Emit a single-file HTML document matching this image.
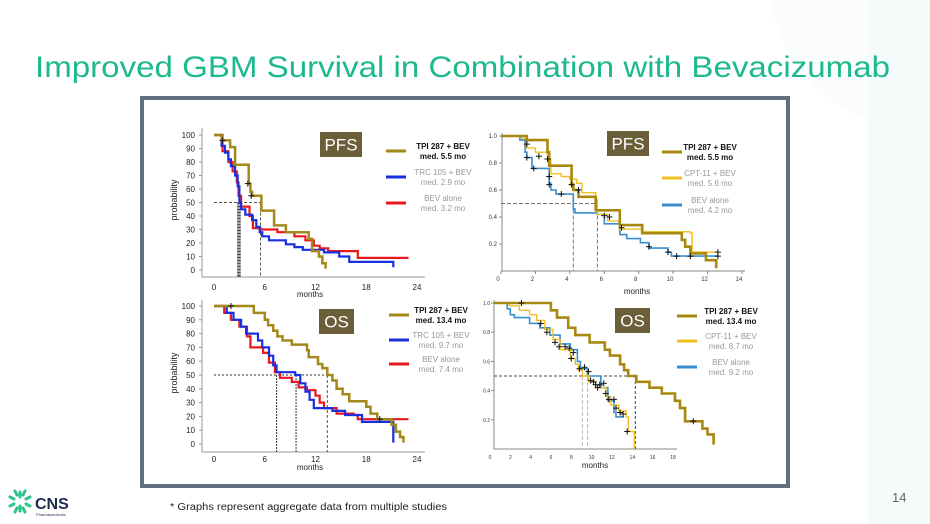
<!DOCTYPE html>
<html><head><meta charset="utf-8"><style>
html,body{margin:0;padding:0;background:#fff;}
svg{display:block;font-family:"Liberation Sans",sans-serif;}
</style></head><body>
<svg id="s" width="930" height="524" viewBox="0 0 930 524" xmlns="http://www.w3.org/2000/svg">
<rect width="930" height="524" fill="#fff"/>
<path d="M868 0 H930 V524 H868 Z" fill="#f4fbfa"/>
<path d="M770 0 Q790 90 868 120 V0 Z" fill="#fafdfc"/>
<text x="35" y="77" font-size="30" fill="#1db98e" textLength="855" lengthAdjust="spacingAndGlyphs">Improved GBM Survival in Combination with Bevacizumab</text>
<rect x="142" y="98" width="646" height="388" fill="#fff" stroke="#5f6e80" stroke-width="4"/>
<g id="charts"></g>
<g>
<g stroke="#2bc48a" stroke-width="3" stroke-linecap="round" fill="none">
<path d="M20 492 V497 M20 511 V506 M10 497 L14 499 M30 497 L26 499 M10 506 L14 504 M30 506 L26 504"/>
<path d="M15 491 L17 495 M25 491 L23 495 M15 512 L17 508 M25 512 L23 508"/>
</g>
<text x="35" y="509" font-size="16" font-weight="bold" fill="#1d2b4f">CNS</text>
<text x="36" y="516" font-size="4" fill="#1d2b4f">Pharmaceuticals</text>
</g>
<text x="170" y="510" font-size="10" fill="#222" textLength="277" lengthAdjust="spacingAndGlyphs">* Graphs represent aggregate data from multiple studies</text>
<text x="892" y="502" font-size="13" fill="#666">14</text>
</svg>
<script>
// ---- Panel 1: PFS (TPI / TRC / BEV), probability % ----
const p1TpiT=[0,0.9,1.9,2.5,4.1,4.3,4.5,5.6,7.1,8.5,11.2,11.6,12.4,12.8,13.2];
const p1TpiS=[100,96,91,78,64,58,55,44,33,28,23,14,10,5,1];
const p1TrcT=[0,0.9,1.3,1.7,2.0,2.5,2.8,3.0,3.2,3.7,4.5,5.0,5.4,5.7,6.5,8.5,9.5,10.5,13,14.8,16,21.2];
const p1TrcS=[100,92,87,82,77,70,62,50,45,41,37,32,28,25,22,19,17,15,13,10,6,2];
const p1BevT=[0,1.0,1.7,2.2,2.7,2.9,3.2,4.2,4.6,5.5,7.5,9.5,10.8,11.8,12.5,13.5,17,23];
const p1BevS=[100,88,80,73,65,55,47,40,31,30,28,25,22,18,16,14,9,9];
const p1YTicks=[0,10,20,30,40,50,60,70,80,90,100];
const p1XTicks=[0,6,12,18,24];
// ---- Panel 2: PFS (TPI / CPT / BEV), fraction ----
const p2TpiT=[0,1.5,2.7,2.8,4.1,4.2,4.5,5.5,6.9,8.2,10.5,10.7,11,11.9,12.5];
const p2TpiS=[1.0,0.97,0.88,0.78,0.64,0.60,0.55,0.45,0.34,0.28,0.23,0.18,0.13,0.08,0.02];
const p2CptT=[0,1.2,1.5,2.0,2.7,2.9,3.5,4.0,4.4,4.7,5.5,5.6,6.2,6.9,8.2,11,11.1,12.5];
const p2CptS=[1.0,0.98,0.91,0.88,0.83,0.72,0.70,0.68,0.65,0.58,0.53,0.42,0.37,0.31,0.29,0.28,0.14,0.14];
const p2BevT=[0,1.1,1.4,1.5,1.8,2.8,2.9,3.2,4.2,4.3,5.6,6.0,6.9,7.3,8.1,8.6,9.7,9.9,12.6];
const p2BevS=[1.0,0.97,0.88,0.84,0.76,0.65,0.60,0.57,0.46,0.43,0.42,0.35,0.27,0.24,0.21,0.17,0.14,0.11,0.11];
const p2YTicks=[0.2,0.4,0.6,0.8,1.0];
const p2XTicks=[0,2,4,6,8,10,12,14];
// ---- Panel 3: OS (TPI / TRC / BEV), % ----
const p3TpiT=[0,4.7,6.0,6.4,7.0,7.5,8.1,9.2,11,11.2,12.3,12.8,13.4,14.0,14.5,15.2,16,18,18.5,19.3,21,21.5,22,22.4];
const p3TpiS=[100,95,90,86,82,78,75,72,68,63,58,55,50,46,40,36,31,27,22,18,14,9,5,1];
const p3TrcT=[0,1.5,2.3,3.2,3.8,5.2,5.7,6.5,7.0,7.4,9.6,10.2,10.8,11.3,11.8,14,15.5,17.5,21.2];
const p3TrcS=[100,95,90,85,80,75,70,64,57,52,50,44,38,32,26,24,21,16,1];
const p3BevT=[0,1.2,2,3,3.9,4.3,5.8,6.5,7.2,7.8,9.2,10,11,12,12.5,13,14.5,16.5,17,23];
const p3BevS=[100,95,90,85,78,70,66,59,52,48,45,41,39,35,30,26,22,21,18,18];
// ---- Panel 4: OS (TPI / CPT / BEV), fraction ----
const p4TpiT=[0,5.6,6.2,7.3,8.0,9.4,10.9,11.4,12.4,12.8,13.2,14,15.3,16.5,17.8,18.3,18.8,20.5,21,21.6];
const p4TpiS=[1.0,0.95,0.90,0.83,0.78,0.73,0.68,0.64,0.58,0.54,0.50,0.46,0.42,0.38,0.33,0.28,0.19,0.14,0.10,0.03];
const p4CptT=[0,1.5,2.5,3.5,4.2,5,5.8,6.5,7.5,8,8.3,8.7,9.3,10,11,11.5,12.3,13,13.2,13.8];
const p4CptS=[1.0,0.98,0.95,0.92,0.88,0.82,0.75,0.68,0.62,0.58,0.54,0.50,0.46,0.42,0.36,0.30,0.26,0.22,0.12,0.0];
const p4BevT=[0,1.3,1.6,2,3.5,4.5,5.5,6.5,7.5,8.2,8.5,9.2,10.5,11.2,11.8,12,12.8];
const p4BevS=[1.0,0.96,0.92,0.90,0.86,0.83,0.78,0.72,0.68,0.60,0.55,0.50,0.42,0.33,0.25,0.22,0.22];
const p4XTicks=[0,2,4,6,8,10,12,14,16,18];

const NS="http://www.w3.org/2000/svg";
const root=document.getElementById('charts');
function mk(tag,attrs,parent){const e=document.createElementNS(NS,tag);for(const k in attrs)e.setAttribute(k,attrs[k]);(parent||root).appendChild(e);return e;}
function lin(d0,d1,r0,r1){return v=>r0+(v-d0)/(d1-d0)*(r1-r0);}
function step(T,S,x,y,color,w,name,g){
  let d='M'+x(T[0]).toFixed(1)+' '+y(S[0]).toFixed(1);
  for(let i=1;i<T.length;i++){d+=' H'+x(T[i]).toFixed(1)+' V'+y(S[i]).toFixed(1);}
  const p=mk('path',{d:d,fill:'none',stroke:color,'stroke-width':w},g);
  
  
}
function txt(x,y,s,size,fill,anchor,g,weight){const t=mk('text',{x:x,y:y,'font-size':size,fill:fill,'text-anchor':anchor||'start','font-weight':weight||'normal'},g);t.textContent=s;return t;}
function box(x,y,w,h,label,g){const r=mk('rect',{x:x,y:y,width:w,height:h,fill:'#6b5f3a'},g);const t=txt(x+w/2,y+h/2+6,label,17,'#fff','middle',g);}
function legend(lx,cx,ys,cols,lines,g){
  for(let i=0;i<3;i++){
    const l=mk('line',{x1:lx,x2:lx+20,y1:ys[i],y2:ys[i],stroke:cols[i],'stroke-width':3},g);
    
    
    const c=i===0?'#111':'#999';const wt=i===0?'bold':'normal';
    const a=txt(cx,ys[i]-2,lines[i][0],8,c,'middle',g,wt);
    
    
    const b=txt(cx,ys[i]+8,lines[i][1],8,c,'middle',g,wt);
    
    
  }
}
function dline(x1,y1,x2,y2,g,dash,col){const l=mk('line',{x1:x1,y1:y1,x2:x2,y2:y2,stroke:col||'#555','stroke-width':1,'stroke-dasharray':dash||'3,2'},g);}
function plus(x,y,g){const p=mk('path',{d:`M${x-3} ${y} H${x+3} M${x} ${y-3} V${y+3}`,stroke:'#111','stroke-width':1},g);}

// Panel 1
(function(){
  const g=mk('g',{});
  const x=lin(0,24,214,417),y=lin(0,100,270,135);
  mk('path',{d:'M202 128 V277 H425',fill:'none',stroke:'#999','stroke-width':1},g);
  p1YTicks.forEach(v=>{mk('line',{x1:199,x2:202,y1:y(v),y2:y(v),stroke:'#999'},g);const t=txt(195,y(v)+3,String(v),8,'#222','end',g);});
  p1XTicks.forEach(v=>{const t=txt(x(v),290,String(v),8,'#222','middle',g);});
  const xt=txt(310,297,'months',8,'#222','middle',g);
  const yt=txt(0,0,'probability',9,'#222','middle',g);yt.setAttribute('transform','translate(177,200) rotate(-90)');
  dline(x(0),y(50),x(5.5),y(50),g);dline(x(5.5),y(50),x(5.5),277,g);
  for(let k=0;k<4;k++)dline(x(2.8+k*0.1),y(50),x(2.8+k*0.1),277,g,'2,1','#444');
  step(p1BevT,p1BevS,x,y,'#e8191c',2.2,'series-bev-alone',g);
  step(p1TrcT,p1TrcS,x,y,'#1a2fe0',2.2,'series-trc105-bev',g);
  step(p1TpiT,p1TpiS,x,y,'#a2891a',2.5,'series-tpi287-bev',g);
  plus(x(1),y(96),g);plus(x(4),y(64),g);plus(x(4.4),y(55),g);
  box(320,132,42,25,'PFS',g);
  legend(386,443,[151,177,203],['#a2891a','#1a2fe0','#e8191c'],[['TPI 287 + BEV','med. 5.5 mo'],['TRC 105 + BEV','med. 2.9 mo'],['BEV alone','med. 3.2 mo']],g);
})();
// Panel 2
(function(){
  const g=mk('g',{});
  const x=lin(0,14,501,742),y=lin(0,1,271,136);
  mk('path',{d:'M502 133 V271 H745',fill:'none',stroke:'#888','stroke-width':1},g);
  p2YTicks.forEach(v=>{mk('line',{x1:499,x2:502,y1:y(v),y2:y(v),stroke:'#888'},g);const t=txt(497,y(v)+2,v.toFixed(1),6,'#333','end',g);});
  p2XTicks.forEach(v=>{mk('line',{x1:x(v),x2:x(v),y1:271,y2:274,stroke:'#888'},g);const t=txt(x(v)-3,281,String(v),6,'#333','middle',g);});
  const xt=txt(637,294,'months',8,'#222','middle',g);
  dline(x(0),y(0.5),x(5.6),y(0.5),g,'4,2','#777');dline(x(4.2),y(0.5),x(4.2),271,g,'4,2','#777');dline(x(5.6),y(0.5),x(5.6),271,g,'4,2','#777');
  step(p2BevT,p2BevS,x,y,'#3a8fd0',1.6,'series-bev-alone',g);
  step(p2CptT,p2CptS,x,y,'#f0c020',1.4,'series-cpt11-bev',g);
  step(p2TpiT,p2TpiS,x,y,'#a8890f',2.6,'series-tpi287-bev',g);
  [[1.5,0.94],[1.5,0.84],[1.9,0.76],[2.2,0.85],[2.7,0.83],[2.8,0.70],[2.8,0.64],[3.5,0.57],[4.1,0.64],[4.5,0.60],[6,0.41],[6.3,0.40],[7,0.32],[8.6,0.18],[9.7,0.14],[10.2,0.11],[11,0.11],[12.6,0.14],[12.6,0.11]].forEach(p=>plus(x(p[0]),y(p[1]),g));
  box(607,131,42,25,'PFS',g);
  legend(662,710,[152,178,205],['#a8890f','#f0c020','#3a8fd0'],[['TPI 287 + BEV','med. 5.5 mo'],['CPT-11 + BEV','med. 5.6 mo'],['BEV alone','med. 4.2 mo']],g);
})();
// Panel 3
(function(){
  const g=mk('g',{});
  const x=lin(0,24,214,417),y=lin(0,100,444,306);
  mk('path',{d:'M202 300 V452 H425',fill:'none',stroke:'#999','stroke-width':1},g);
  p1YTicks.forEach(v=>{mk('line',{x1:199,x2:202,y1:y(v),y2:y(v),stroke:'#999'},g);const t=txt(195,y(v)+3,String(v),8,'#222','end',g);});
  p1XTicks.forEach(v=>{const t=txt(x(v),462,String(v),8,'#222','middle',g);});
  const xt=txt(310,470,'months',8,'#222','middle',g);
  const yt=txt(0,0,'probability',9,'#222','middle',g);yt.setAttribute('transform','translate(177,373) rotate(-90)');
  dline(x(0),y(50),x(13.4),y(50),g,'2,2','#333');dline(x(7.4),y(50),x(7.4),452,g,'2,1','#333');dline(x(9.7),y(50),x(9.7),452,g,'2,1','#333');dline(x(13.4),y(50),x(13.4),452,g,'3,2','#555');
  step(p3BevT,p3BevS,x,y,'#e8191c',2.2,'series-bev-alone',g);
  step(p3TrcT,p3TrcS,x,y,'#1a2fe0',2.2,'series-trc105-bev',g);
  step(p3TpiT,p3TpiS,x,y,'#a2891a',2.5,'series-tpi287-bev',g);
  plus(x(2),y(100),g);plus(x(19.6),y(18),g);
  box(319,309,35,25,'OS',g);
  legend(389,441,[315,340,364],['#a2891a','#1a2fe0','#e8191c'],[['TPI 287 + BEV','med. 13.4 mo'],['TRC 105 + BEV','med. 9.7 mo'],['BEV alone','med. 7.4 mo']],g);
})();
// Panel 4
(function(){
  const g=mk('g',{});
  const x=lin(0,18,494,677),y=lin(0,1,449,303);
  mk('path',{d:'M494 300 V449 H677',fill:'none',stroke:'#888','stroke-width':1},g);
  p2YTicks.forEach(v=>{mk('line',{x1:491,x2:494,y1:y(v),y2:y(v),stroke:'#888'},g);const t=txt(490,y(v)+2,v.toFixed(1),5,'#333','end',g);});
  p4XTicks.forEach(v=>{const t=txt(x(v)-4,459,String(v),5,'#333','middle',g);});
  const xt=txt(595,468,'months',8,'#222','middle',g);
  dline(x(0),y(0.5),x(13.9),y(0.5),g,'3,2','#444');dline(x(8.7),y(0.5),x(8.7),449,g,'4,2','#bbb');dline(x(9.2),y(0.5),x(9.2),449,g,'4,2','#bbb');dline(x(13.9),y(0.5),x(13.9),449,g,'3,2','#444');
  step(p4BevT,p4BevS,x,y,'#3a8fd0',1.6,'series-bev-alone',g);
  step(p4CptT,p4CptS,x,y,'#f0c020',1.4,'series-cpt11-bev',g);
  step(p4TpiT,p4TpiS,x,y,'#a8890f',2.6,'series-tpi287-bev',g);
  [[2.7,1.0],[4.6,0.86],[5.2,0.8],[6,0.73],[6.4,0.70],[7,0.70],[7.4,0.69],[7.8,0.66],[7.6,0.62],[8.4,0.55],[8.9,0.56],[9.3,0.53],[9.5,0.47],[9.8,0.46],[10,0.44],[10.4,0.44],[10.8,0.45],[10.2,0.42],[11,0.38],[11.3,0.34],[11.8,0.34],[12,0.28],[12.4,0.25],[12.7,0.24],[13.1,0.12],[19.6,0.19]].forEach(p=>plus(x(p[0]),y(p[1]),g));
  box(615,308,35,25,'OS',g);
  legend(677,731,[316,341,367],['#a8890f','#f0c020','#3a8fd0'],[['TPI 287 + BEV','med. 13.4 mo'],['CPT-11 + BEV','med. 8.7 mo'],['BEV alone','med. 9.2 mo']],g);
})();
</script>
</body></html>
